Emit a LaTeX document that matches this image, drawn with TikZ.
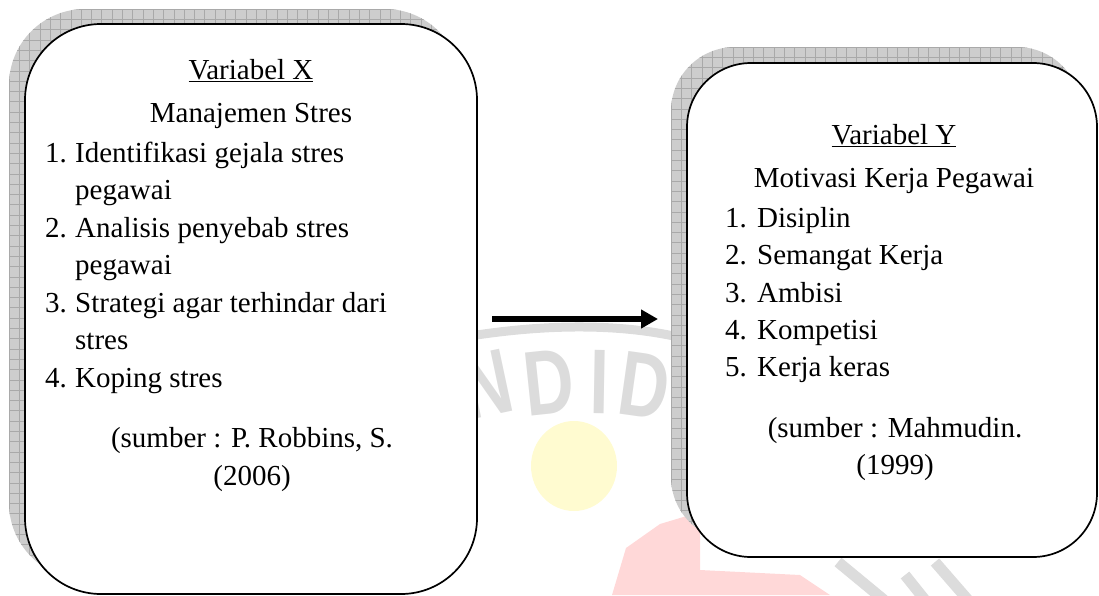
\documentclass[tikz,border=0pt]{standalone}
\usepackage{fontspec}
\setmainfont{Liberation Serif}
\newfontfamily\wmfont{Liberation Sans}
\usetikzlibrary{arrows.meta}
\definecolor{shadowgray}{HTML}{CDCDCD}
\definecolor{gridgray}{HTML}{A9A9A9}
\definecolor{wmgray}{HTML}{DCDCDC}
\definecolor{wmyellow}{HTML}{FFFBD0}
\definecolor{wmpink}{HTML}{FFD8D8}
\tikzset{
  boxline/.style={draw=black, line width=1.7pt, fill=white},
  txt/.style={inner sep=0pt, font=\fontsize{29}{35}\selectfont},
  wmletter/.style={inner sep=0pt, text=wmgray, font=\wmfont\bfseries\fontsize{92}{92}\selectfont},
  bigarrow/.style={line width=6pt, -{Triangle[length=17pt,width=18pt]}}
}
\begin{document}
\begin{tikzpicture}[x=1pt,y=-1pt]
\useasboundingbox (0,0) rectangle (1099,595);

% ---- faint watermark (behind the boxes)
\fill[wmyellow] (574,466) ellipse [x radius=43, y radius=45];
\fill[wmpink] (612,595) -- (626,548) -- (660,524) -- (700,512) -- (700,570) -- (800,575) -- (830,595) -- cycle;
\draw[wmgray, line width=9pt] (470,336) .. controls (560,322) and (640,324) .. (705,344);
\node[wmletter, rotate=12] (wN) at (486,384) {\scalebox{0.75}[1]{N}};
\node[wmletter, rotate=6] (wD1) at (549,382) {\scalebox{0.75}[1]{D}};
\node[wmletter, rotate=-1] (wI) at (600,382) {\scalebox{0.75}[1]{I}};
\node[wmletter, rotate=-8] (wD2) at (645,386) {\scalebox{0.75}[1]{D}};
\draw[wmgray, line width=11pt] (838,562) -- (884,600);
\draw[wmgray, line width=11pt] (935,562) -- (968,600);
\draw[wmgray, line width=11pt] (905,575) -- (925,600);

% ---- shadows with grid pattern
\begin{scope}
  \clip[rounded corners=76pt] (9,9) rectangle (461,579);
  \fill[shadowgray] (0,0) rectangle (480,595);
  \foreach \x in {9,19.3,...,480} \draw[gridgray, line width=0.6pt] (\x,0) -- (\x,595);
  \foreach \y in {9,19.3,...,595} \draw[gridgray, line width=0.6pt] (0,\y) -- (480,\y);
\end{scope}
\begin{scope}
  \clip[rounded corners=64pt] (671,47) rectangle (1081,541);
  \fill[shadowgray] (660,40) rectangle (1099,560);
  \foreach \x in {671,681.3,...,1099} \draw[gridgray, line width=0.6pt] (\x,40) -- (\x,560);
  \foreach \y in {47,57.3,...,560} \draw[gridgray, line width=0.6pt] (660,\y) -- (1099,\y);
\end{scope}

% ---- boxes
\draw[boxline, rounded corners=76pt] (25,24) rectangle (477,594);
\draw[boxline, rounded corners=64pt] (687,63) rectangle (1097,557);

% ---- left box text
\node[txt, anchor=base] (xt) at (251,79) {\underline{Variabel X}};
\node[txt, anchor=base] (xs) at (251,122) {Manajemen Stres};
\node[txt, anchor=base west] (xn1) at (45,162) {1.};
\node[txt, anchor=base west] (xi1) at (75,162) {Identifikasi gejala stres};
\node[txt, anchor=base west] (xi1b) at (75,199) {pegawai};
\node[txt, anchor=base west] (xn2) at (45,237) {2.};
\node[txt, anchor=base west] (xi2) at (75,237) {Analisis penyebab stres};
\node[txt, anchor=base west] (xi2b) at (75,274) {pegawai};
\node[txt, anchor=base west] (xn3) at (45,312) {3.};
\node[txt, anchor=base west] (xi3) at (75,312) {Strategi agar terhindar dari};
\node[txt, anchor=base west] (xi3b) at (75,349) {stres};
\node[txt, anchor=base west] (xn4) at (45,387) {4.};
\node[txt, anchor=base west] (xi4) at (75,387) {Koping stres};
\node[txt, anchor=base] (xsrc) at (252,447) {(sumber : P. Robbins, S.};
\node[txt, anchor=base] (xyr) at (252,485) {(2006)};

% ---- right box text
\node[txt, anchor=base] (yt) at (894,144) {\underline{Variabel Y}};
\node[txt, anchor=base] (ys) at (894,187) {Motivasi Kerja Pegawai};
\node[txt, anchor=base west] (yn1) at (725,227) {1.};
\node[txt, anchor=base west] (yi1) at (757,227) {Disiplin};
\node[txt, anchor=base west] (yn2) at (725,264) {2.};
\node[txt, anchor=base west] (yi2) at (757,264) {Semangat Kerja};
\node[txt, anchor=base west] (yn3) at (725,302) {3.};
\node[txt, anchor=base west] (yi3) at (757,302) {Ambisi};
\node[txt, anchor=base west] (yn4) at (725,339) {4.};
\node[txt, anchor=base west] (yi4) at (757,339) {Kompetisi};
\node[txt, anchor=base west] (yn5) at (725,376) {5.};
\node[txt, anchor=base west] (yi5) at (757,376) {Kerja keras};
\node[txt, anchor=base] (ysrc) at (895,437) {(sumber : Mahmudin.};
\node[txt, anchor=base] (yyr) at (895,474) {(1999)};

% ---- arrow
\coordinate (a1) at (492,319);
\coordinate (a2) at (658,319);
\draw[bigarrow] (a1) -- (a2);
\end{tikzpicture}
\end{document}
